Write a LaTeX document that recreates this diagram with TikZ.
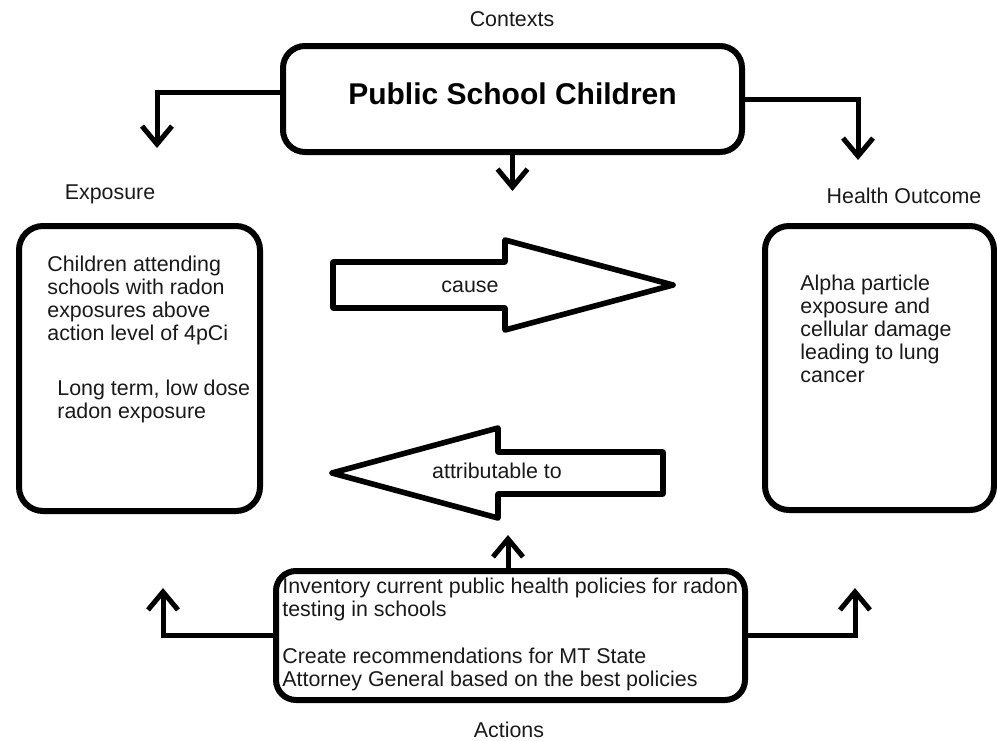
\documentclass[tikz,border=0pt]{standalone}
\usepackage{fontspec}
\setmainfont{Liberation Sans}
\usetikzlibrary{arrows.meta}

\tikzset{
	box/.style={draw, line width=3pt, rounded corners=11pt, inner sep=0pt},
	conn/.style={line width=2.5pt, ->},
	blockarrow/.style={draw, line width=2.8pt, line join=round},
	txt/.style={align=left, inner sep=0pt, anchor=north west, text=black!90},
	lbl/.style={inner sep=0pt, text=black!90},
}

\begin{document}
\begin{tikzpicture}[x=0.5pt, y=-0.5pt, font=\fontsize{10.7}{11.5}\selectfont, line cap=round, >={Straight Barb[length=9pt, width=15pt]}]
		\useasboundingbox (0,0) rectangle (997,740);
		% the four boxes
		\node[box, minimum width=229.5pt, minimum height=53pt, text depth=5pt, font=\fontsize{15}{18}\selectfont\bfseries] (ctx) at (512.5,99) {Public School Children};
		\node[box, rounded corners=12pt, minimum width=120.5pt, minimum height=142.5pt] (expo) at (139.5,368.5) {};
		\node[box, rounded corners=12pt, minimum width=114.5pt, minimum height=142pt] (outc) at (879.5,368) {};
		\node[box, rounded corners=10pt, minimum width=234.5pt, minimum height=64.5pt] (act) at (510.5,635.5) {};
		% labels
		\node[lbl, anchor=base] (contexts) at (512,26) {Contexts};
		\node[lbl, anchor=base] (exposure) at (110,199) {Exposure};
		\node[lbl, anchor=base] (health) at (904,203) {Health Outcome};
		\node[lbl, anchor=base] (actions) at (509,737) {Actions};
		% box texts
		\node[txt] (expoA) at (47,256) {Children attending\\schools with radon\\exposures above\\action level of 4pCi};
		\node[txt] (expoB) at (57,380) {Long term, low dose\\radon exposure};
		\node[txt] (outA) at (800,275) {Alpha particle\\exposure and\\cellular damage\\leading to lung\\cancer};
		\node[txt] (actA) at (282,578) {Inventory current public health policies for radon\\testing in schools};
		\node[txt] (actB) at (282,648) {Create recommendations for MT State\\Attorney General based on the best policies};
		% block arrows
		\draw[blockarrow] (333,262) -- (505,262) -- (505,240) -- (673,285) -- (505,330) -- (505,308) -- (333,308) -- cycle;
		\node[lbl] (cause) at (470,287) {cause};
		\draw[blockarrow] (663,452) -- (498,452) -- (498,428) -- (332,473) -- (498,518) -- (498,494) -- (663,494) -- cycle;
		\node[lbl] (attr) at (497,471) {attributable to};
		% connectors
		\coordinate (expTip) at (157,148);
		\coordinate (outTip) at (858,160);
		\coordinate (midTip) at (512.5,191);
		\draw[conn] ([yshift=3.5pt]ctx.west) -| (expTip);
		\draw[conn] (ctx.east) -| (outTip);
		\draw[conn] (ctx.south) -- (midTip);
		\coordinate (upTip) at (508,535);
		\coordinate (leftTip) at (163,588);
		\coordinate (rightTip) at (855,588);
		\draw[conn] (act.north -| upTip) -- (upTip);
		\draw[conn] (act.west) -| (leftTip);
		\draw[conn] (act.east) -| (rightTip);
	\end{tikzpicture}
\end{document}
